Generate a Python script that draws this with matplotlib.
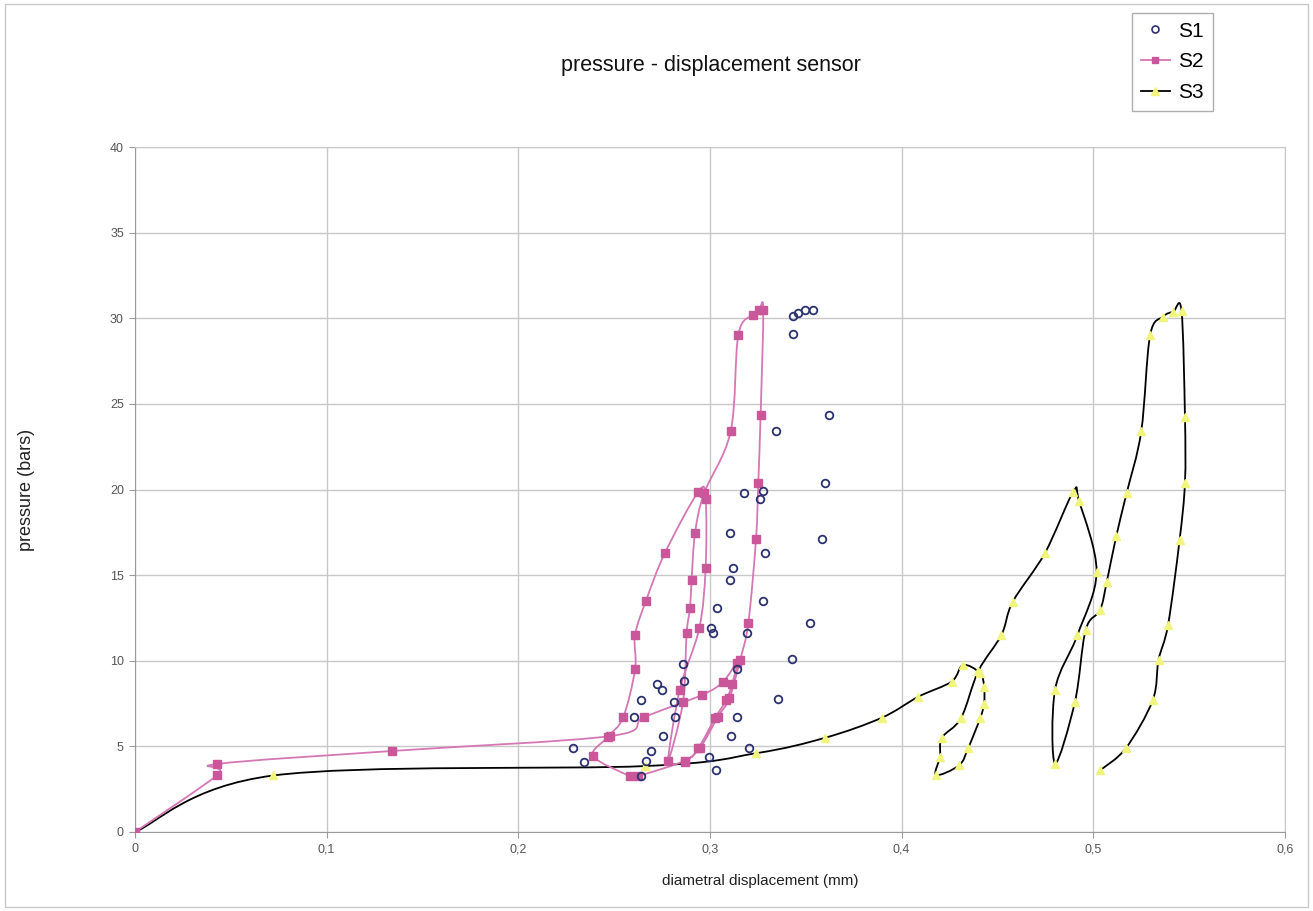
import matplotlib
matplotlib.use("Agg")
import matplotlib.pyplot as plt
from matplotlib.path import Path
from matplotlib.patches import PathPatch, Rectangle
from matplotlib.lines import Line2D
import numpy as np

plt.rcParams['font.family'] = ['Liberation Sans', 'DejaVu Sans']

# S1: scattered readings (open circles, no line)
s1_x = [0.3432, 0.3458, 0.3497, 0.3536, 0.3432, 0.3623, 0.3345, 0.3602, 0.3276,
        0.3259, 0.3585, 0.3288, 0.3179, 0.3104, 0.3122, 0.3104, 0.3275, 0.3035,
        0.3522, 0.3005, 0.3014, 0.3195, 0.3429, 0.3142, 0.2857, 0.2726, 0.2747,
        0.2864, 0.2814, 0.2639, 0.3354, 0.2819, 0.2604, 0.3142, 0.2755, 0.3111,
        0.2283, 0.2694, 0.3203, 0.2343, 0.2668, 0.2993, 0.3033, 0.2642]
s1_y = [30.13, 30.3, 30.5, 30.5, 29.06, 24.35, 23.43, 20.4, 19.9,
        19.47, 17.1, 16.27, 19.8, 17.44, 15.4, 14.7, 13.5, 13.1,
        12.2, 11.9, 11.6, 11.6, 10.1, 9.5, 9.8, 8.64, 8.29,
        8.8, 7.6, 7.7, 7.77, 6.7, 6.7, 6.7, 5.6, 5.6,
        4.9, 4.73, 4.92, 4.1, 4.16, 4.4, 3.6, 3.27]

# S2: loading / unloading cycles (smoothed line, square markers)
s2_x = [0.0, 0.043, 0.043, 0.134, 0.2478, 0.2656, 0.2958, 0.3068, 0.3139,
        0.3115, 0.3085, 0.3027, 0.2938, 0.2868, 0.2625, 0.2582,
        0.2391, 0.2469, 0.2547, 0.2609, 0.2609, 0.2666, 0.2765, 0.2939,
        0.2977, 0.2977, 0.2944, 0.2842, 0.2781,
        0.2859, 0.2878, 0.2896, 0.2904, 0.2922, 0.2969, 0.3108, 0.3148, 0.3226, 0.3257, 0.3278,
        0.3264, 0.3252, 0.324, 0.32, 0.3157, 0.3101, 0.304, 0.2948, 0.287]
s2_y = [0.0, 3.33, 3.97, 4.73, 5.6, 6.7, 8.0, 8.77, 9.85,
        8.64, 7.7, 6.67, 4.88, 4.16, 3.27, 3.27,
        4.44, 5.57, 6.7, 9.5, 11.5, 13.5, 16.3, 19.87,
        19.47, 15.4, 11.9, 8.3, 4.16,
        7.6, 11.6, 13.1, 14.7, 17.44, 19.77, 23.4, 29.05, 30.2, 30.48, 30.5,
        24.35, 20.4, 17.1, 12.2, 10.04, 7.8, 6.7, 4.9, 4.1]

# S3: loading / unloading cycles (smoothed black line, yellow markers)
s3_x = [0.0, 0.0722, 0.266, 0.3241, 0.36, 0.3896, 0.4087, 0.426, 0.432,
        0.441, 0.443, 0.443, 0.441, 0.4347, 0.430, 0.418,
        0.42, 0.421, 0.431, 0.44, 0.452, 0.458, 0.4748, 0.4895,
        0.4925, 0.5017, 0.4917, 0.48, 0.48,
        0.4904, 0.496, 0.5035, 0.507, 0.512, 0.5174, 0.525, 0.5296, 0.5365, 0.5417, 0.546,
        0.5478, 0.5478, 0.545, 0.539, 0.534, 0.531, 0.517, 0.5035]
s3_y = [0.0, 3.3, 3.85, 4.6, 5.5, 6.67, 7.9, 8.78, 9.75,
        9.27, 8.47, 7.5, 6.66, 4.9, 3.9, 3.33,
        4.4, 5.5, 6.66, 9.4, 11.5, 13.45, 16.3, 19.87,
        19.35, 15.2, 11.5, 8.3, 4.0,
        7.6, 11.8, 12.96, 14.6, 17.3, 19.8, 23.4, 29.0, 30.1, 30.38, 30.44,
        24.25, 20.4, 17.05, 12.1, 10.04, 7.7, 4.9, 3.6]

x_ticks = [0, 0.1, 0.2, 0.3, 0.4, 0.5, 0.6]
x_tick_labels = ['0', '0,1', '0,2', '0,3', '0,4', '0,5', '0,6']
y_ticks = [0, 5, 10, 15, 20, 25, 30, 35, 40]


def smooth_path(xs, ys):
    """Catmull-Rom style cubic Bezier path through the points."""
    pts = np.column_stack([xs, ys]).astype(float)
    n = len(pts)
    verts = [pts[0]]
    codes = [Path.MOVETO]
    for i in range(n - 1):
        p0 = pts[i - 1] if i > 0 else pts[i]
        p1 = pts[i]
        p2 = pts[i + 1]
        p3 = pts[i + 2] if i + 2 < n else pts[i + 1]
        c1 = p1 + (p2 - p0) / 6.0
        c2 = p2 - (p3 - p1) / 6.0
        verts += [c1, c2, p2]
        codes += [Path.CURVE4] * 3
    return Path(verts, codes)


fig = plt.figure(figsize=(13.13, 9.11), dpi=100)
ax = fig.add_axes([135 / 1313, 1 - 832 / 911, 1150 / 1313, 685 / 911])

grid_col = '#c8c8c8'
ax.set_xlim(0, 0.6)
ax.set_ylim(0, 40)
ax.set_xticks(x_ticks)
ax.set_xticklabels(x_tick_labels)
ax.set_yticks(y_ticks)
ax.grid(True, color=grid_col, linewidth=1.0)
ax.set_axisbelow(True)
for side in ['top', 'right']:
    ax.spines[side].set_color(grid_col)
for side in ['left', 'bottom']:
    ax.spines[side].set_color('#9a9a9a')
ax.tick_params(axis='both', direction='out', length=4, color='#9a9a9a',
               labelsize=9, labelcolor='#555555', pad=4)

# S3 line and markers
ax.add_patch(PathPatch(smooth_path(s3_x, s3_y), fill=False, edgecolor='black',
                       linewidth=1.3, zorder=3))
ax.plot(s3_x, s3_y, linestyle='none', marker='^', markersize=6,
        markerfacecolor='#f2f57c', markeredgecolor='#f2f57c', zorder=4)

# S2 line and markers
ax.add_patch(PathPatch(smooth_path(s2_x, s2_y), fill=False, edgecolor='#d477b4',
                       linewidth=1.3, zorder=5))
ax.plot(s2_x, s2_y, linestyle='none', marker='s', markersize=5.5,
        markerfacecolor='#c9579a', markeredgecolor='#c9579a', zorder=6)

# S1 scatter
ax.plot(s1_x, s1_y, linestyle='none', marker='o', markersize=5.5,
        markerfacecolor='none', markeredgecolor='#2c3170', markeredgewidth=1.3,
        zorder=7)

fig.text(711 / 1313, 1 - 66 / 911, 'pressure - displacement sensor',
         ha='center', va='center', fontsize=15.5, color='#111111')
ax.set_xlabel('diametral displacement (mm)', fontsize=11, color='#222222')
ax.xaxis.set_label_coords((760 - 135) / 1150, -0.062)
ax.set_ylabel('pressure (bars)', fontsize=13, color='#222222')
ax.yaxis.set_label_coords((35 - 135) / 1150, 0.5)

handles = [
    Line2D([], [], linestyle='none', marker='o', markersize=5,
           markerfacecolor='none', markeredgecolor='#2c3170', markeredgewidth=1.2),
    Line2D([], [], color='#d477b4', linewidth=1.3, marker='s', markersize=5,
           markerfacecolor='#c9579a', markeredgecolor='#c9579a'),
    Line2D([], [], color='black', linewidth=1.3, marker='^', markersize=6,
           markerfacecolor='#f2f57c', markeredgecolor='#f2f57c'),
]
leg = fig.legend(handles, ['S1', 'S2', 'S3'], loc='upper left',
                 bbox_to_anchor=(1132 / 1313, 1 - 13 / 911), fontsize=15,
                 frameon=True, fancybox=False, handlelength=1.4,
                 handletextpad=0.4, borderpad=0.42, labelspacing=0.56,
                 borderaxespad=0)
leg.get_frame().set_edgecolor('#9a9a9a')
leg.get_frame().set_linewidth(1.0)

# chart-area border
fig.patches.append(Rectangle((5 / 1313, 4 / 911), 1 - 10 / 1313, 1 - 8 / 911,
                             transform=fig.transFigure, fill=False,
                             edgecolor='#c8c8c8', linewidth=1.0))

fig.savefig('out.png', dpi=100)
